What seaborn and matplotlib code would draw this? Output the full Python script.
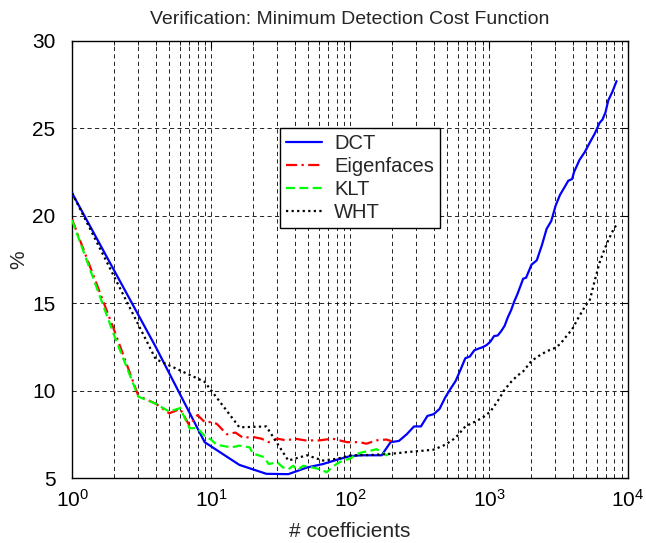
import pandas as pd
import matplotlib
matplotlib.use("Agg")
import matplotlib.pyplot as plt
import seaborn as sns
from matplotlib.ticker import LogLocator

# DCT / WHT: number of kept coefficients (k x k blocks)
dct_x = [1, 4, 9, 16, 25, 36, 49, 64, 81, 100, 121, 144, 169, 196, 225, 256, 289,
         324, 361, 400, 441, 484, 529, 576, 625, 676, 729, 784, 841, 900, 961, 1024,
         1089, 1156, 1225, 1296, 1369, 1444, 1521, 1600, 1764, 1849, 2025, 2209, 2401,
         2601, 2809, 3025, 3249, 3481, 3721, 3969, 4096, 4489, 4900, 5329, 5776, 6241,
         6561, 6889, 7225, 7744, 8281]
dct_y = [21.3, 12.5, 7.05, 5.75, 5.24, 5.22, 5.6, 5.8, 6.05, 6.25, 6.3, 6.3, 6.3, 7.05,
         7.12, 7.5, 7.95, 7.95, 8.55, 8.65, 8.95, 9.6, 10.1, 10.55, 11.2, 11.85, 11.95,
         12.3, 12.4, 12.48, 12.6, 12.8, 13.12, 13.15, 13.4, 13.7, 14.2, 14.6, 15.1, 15.5,
         16.4, 16.45, 17.2, 17.45, 18.3, 19.25, 19.7, 20.6, 21.2, 21.6, 22.0, 22.1, 22.5,
         23.2, 23.65, 24.2, 24.7, 25.3, 25.5, 25.9, 26.6, 27.1, 27.7]

wht_x = [1, 4, 9, 16, 25, 36, 49, 64, 81, 100, 144, 196, 256, 324, 400, 484, 576, 676,
         784, 900, 1024, 1156, 1296, 1444, 1600, 1764, 2025, 2304, 2601, 2916, 3249,
         3600, 3969, 4356, 4900, 5329, 5776, 6241, 6724, 7225, 7744, 8281]
wht_y = [21.3, 11.8, 10.5, 7.9, 7.95, 6.0, 6.3, 6.0, 6.1, 6.29, 6.32, 6.38, 6.48, 6.55,
         6.62, 6.9, 7.3, 7.95, 8.2, 8.45, 8.8, 9.4, 10.05, 10.5, 10.85, 11.1, 11.7, 12.0,
         12.25, 12.4, 12.65, 13.1, 13.5, 14.1, 14.8, 15.2, 16.3, 17.3, 18.0, 18.6, 19.1,
         19.5]

eig_x = [1, 2, 3, 4, 5, 6, 7, 8, 9, 10, 11, 13, 15, 17, 20, 23, 26, 30, 35, 40, 48,
         60, 75, 95, 118, 131, 155, 183, 200]
eig_y = [19.8, 13.5, 9.7, 9.25, 8.7, 8.95, 8.0, 8.6, 8.2, 8.2, 8.1, 7.5, 7.6, 7.3,
         7.35, 7.25, 7.05, 7.25, 7.15, 7.25, 7.15, 7.15, 7.25, 7.05, 7.05, 6.96, 7.15,
         7.2, 7.1]

klt_x = [1, 2, 3, 4, 5, 6, 7, 8, 9, 10, 11, 14, 16, 19, 20, 24, 26, 30, 33, 36, 39,
         42, 46, 54, 61, 68, 74, 80, 89, 100, 112, 124, 139, 155, 169, 183, 192]
klt_y = [19.75, 13.2, 9.65, 9.25, 8.8, 9.0, 7.85, 7.85, 7.4, 7.2, 6.9, 6.75, 6.85,
         6.75, 6.4, 6.2, 5.8, 5.9, 5.6, 5.5, 5.7, 5.45, 5.7, 5.6, 5.5, 5.33, 5.6, 5.8,
         6.0, 6.1, 6.38, 6.48, 6.55, 6.65, 6.48, 6.3, 6.4]

sns.set_style("white")
plt.rcParams['font.family'] = ['Liberation Sans', 'DejaVu Sans']
plt.rcParams['mathtext.default'] = 'regular'

fig = plt.figure(figsize=(6.46, 5.43), dpi=100)
ax = fig.add_axes([0.1115, 0.1197, 0.8605, 0.805])

series = [
    ("DCT", dct_x, dct_y, "#0000ff", "-"),
    ("Eigenfaces", eig_x, eig_y, "#ff0000", (0, (5, 2, 1, 2))),
    ("KLT", klt_x, klt_y, "#00ff00", (0, (4, 2))),
    ("WHT", wht_x, wht_y, "black", (0, (1, 1.5))),
]
for name, xs, ys, col, ls in series:
    df = pd.DataFrame({"x": xs, "y": ys})
    sns.lineplot(data=df, x="x", y="y", ax=ax, color=col, linestyle=ls,
                 linewidth=1.6, label=name, errorbar=None, sort=False, zorder=3)

ax.set_xscale("log")
ax.set_xlim(1, 1e4)
ax.set_ylim(5, 30)
ax.set_yticks([5, 10, 15, 20, 25, 30])
ax.xaxis.set_major_locator(LogLocator(base=10, numticks=10))
ax.xaxis.set_minor_locator(LogLocator(base=10, subs=range(2, 10), numticks=20))

ax.grid(True, which="major", axis="both", color="black", linestyle=(0, (5, 4)), linewidth=0.6)
ax.grid(True, which="minor", axis="x", color="black", linestyle=(0, (5, 4)), linewidth=0.6)
ax.set_axisbelow(True)

ax.tick_params(which="both", direction="in", top=True, right=True, labelsize=15,
               color="black", labelcolor="black")
ax.tick_params(which="major", length=5, width=0.8)
ax.tick_params(which="minor", length=3, width=0.6)
ax.tick_params(axis="x", which="major", pad=8)
ax.tick_params(axis="y", which="major", pad=12)
for sp in ax.spines.values():
    sp.set_color("black")
    sp.set_linewidth(1.0)

ax.set_title("Verification: Minimum Detection Cost Function", fontsize=14, pad=12)
ax.set_xlabel("# coefficients", fontsize=15, labelpad=8)
ax.set_ylabel("%", fontsize=15, labelpad=3)

leg = ax.legend(loc="upper left", bbox_to_anchor=(0.374, 0.801), fontsize=14.5,
                frameon=True, fancybox=False, framealpha=1, edgecolor="black",
                handlelength=1.8, labelspacing=0.2, borderpad=0.3, handletextpad=0.6,
                borderaxespad=0)
leg.get_frame().set_linewidth(1.0)

fig.savefig("out.png", dpi=100)
